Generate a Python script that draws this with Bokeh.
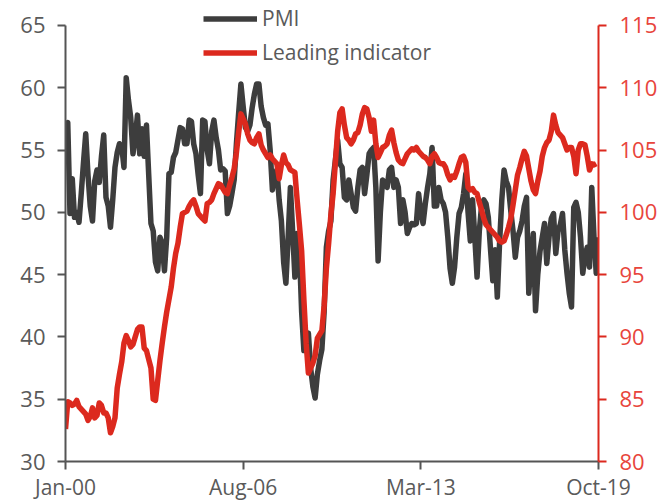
import numpy as np
from bokeh.plotting import figure
from bokeh.models import Range1d, LinearAxis, FixedTicker, Legend, LegendItem, ColumnDataSource
from bokeh.embed import file_html
from bokeh.resources import INLINE

# Monthly data, Jan-2000 .. Oct-2019
tick_labels = ["Jan-00", "Aug-06", "Mar-13", "Oct-19"]
tick_months = [0, 79, 158, 237]
left_ticks = [30, 35, 40, 45, 50, 55, 60, 65]
right_ticks = [80, 85, 90, 95, 100, 105, 110, 115]

pmi = [
    57.0, 57.2, 49.9, 52.7, 49.6, 50.0, 49.2, 51.5, 54.0, 56.3,
    53.0, 50.5, 49.3, 52.5, 53.4, 52.4, 54.5, 56.2, 51.2, 50.5,
    48.8, 51.0, 53.6, 54.8, 55.5, 55.3, 53.6, 60.8, 59.0, 57.6,
    54.7, 56.0, 57.8, 54.7, 56.7, 54.5, 57.0, 53.0, 49.1, 48.5,
    46.0, 45.3, 48.0, 47.5, 45.3, 48.0, 53.1, 53.2, 54.4, 54.8,
    55.8, 56.8, 56.7, 55.5, 55.5, 57.4, 57.3, 55.5, 54.7, 53.0,
    51.5, 57.4, 57.3, 55.0, 53.9, 56.5, 57.4, 56.0, 55.0, 53.4,
    53.5, 53.3, 49.9, 50.5, 51.5, 52.6, 55.5, 58.0, 60.3, 58.5,
    56.8, 56.5, 57.0, 58.4, 59.5, 60.3, 60.3, 58.5, 57.6, 57.0,
    57.1, 55.0, 51.8, 53.0, 53.4, 51.0, 49.3, 46.0, 44.3, 48.0,
    52.0, 48.5, 44.8, 48.3, 47.0, 42.0, 38.9, 39.5, 40.3, 37.5,
    36.0, 35.1, 37.0, 38.1, 39.0, 42.0, 47.2, 48.5, 49.3, 52.6,
    54.2, 55.8, 53.9, 53.6, 51.2, 51.0, 52.6, 51.5, 50.4, 50.1,
    52.0, 53.4, 53.6, 51.5, 53.0, 54.7, 55.0, 55.2, 52.0, 46.1,
    50.0, 52.6, 52.3, 52.0, 53.4, 53.6, 52.0, 52.6, 52.0, 49.1,
    51.0, 50.0, 48.3, 48.8, 49.1, 49.0, 49.1, 51.5, 50.0, 49.1,
    50.7, 52.0, 53.1, 55.2, 50.5, 50.5, 52.0, 51.0, 50.7, 50.0,
    48.0, 45.5, 44.3, 45.6, 48.0, 49.9, 50.4, 51.5, 53.1, 50.0,
    47.7, 51.0, 48.0, 44.8, 48.5, 50.5, 51.0, 50.7, 49.6, 47.0,
    44.5, 47.0, 43.2, 47.5, 51.0, 53.4, 52.5, 52.0, 50.1, 48.5,
    46.4, 48.0, 48.5, 49.3, 50.5, 51.2, 43.5, 46.0, 48.3, 42.1,
    45.0, 46.9, 48.0, 49.1, 45.9, 48.0, 49.5, 49.9, 46.7, 48.5,
    49.0, 49.9, 47.0, 45.1, 43.5, 42.4, 50.4, 50.8, 50.0, 48.0,
    45.1, 46.5, 47.2, 45.6, 52.0, 48.0, 45.1, 48.0,
]

leading = [
    82.6, 84.8, 84.7, 84.5, 84.6, 84.9, 84.4, 84.2, 84.0, 83.8,
    83.3, 83.6, 84.3, 83.5, 83.7, 84.7, 84.5, 83.9, 83.9, 83.5,
    82.3, 82.8, 83.5, 85.9, 87.0, 88.0, 89.5, 90.1, 89.7, 89.2,
    89.4, 90.0, 90.6, 90.8, 90.8, 89.1, 88.9, 88.2, 87.5, 85.0,
    84.9, 86.5, 88.1, 89.5, 90.8, 92.0, 93.0, 94.0, 95.5, 96.7,
    97.5, 98.8, 99.9, 100.0, 100.1, 100.5, 100.8, 101.0, 100.5, 99.9,
    99.7, 99.5, 99.3, 100.7, 100.8, 101.0, 101.5, 101.9, 102.3, 102.2,
    101.9, 101.6, 101.5, 102.2, 102.8, 103.5, 104.8, 106.4, 107.9, 107.5,
    107.1, 106.3, 105.8, 105.6, 105.5, 106.0, 106.3, 105.4, 105.0, 104.7,
    104.4, 104.6, 104.3, 104.1, 103.9, 102.7, 103.8, 104.6, 104.0, 103.8,
    103.4, 103.3, 103.2, 101.0, 99.0, 96.9, 93.0, 89.5, 87.1, 87.5,
    87.9, 88.5, 89.9, 90.2, 90.5, 92.5, 95.5, 97.5, 99.8, 101.5,
    104.0, 106.5, 108.0, 108.3, 107.0, 106.0, 105.8, 105.5, 105.8, 106.3,
    106.4, 107.0, 107.9, 108.4, 108.3, 107.6, 106.5, 107.4, 105.5, 104.4,
    104.8, 105.2, 105.3, 105.5, 106.2, 106.6, 105.6, 104.8, 104.2, 104.0,
    103.9, 104.3, 104.7, 104.9, 105.1, 105.0, 105.2, 104.9, 104.7, 104.5,
    104.4, 104.2, 103.9, 104.5, 104.7, 104.4, 104.0, 103.9, 103.9, 103.6,
    103.0, 102.6, 102.9, 102.8, 103.3, 103.9, 104.4, 104.5, 104.0, 102.0,
    101.8, 101.9, 101.6, 101.5, 100.8, 100.2, 99.5, 99.0, 98.8, 98.6,
    98.4, 98.2, 98.0, 97.7, 97.6, 97.7, 98.2, 98.8, 99.5, 100.6,
    101.8, 103.0, 103.6, 104.3, 104.9, 104.5, 103.5, 102.5, 101.8, 101.5,
    102.5, 103.3, 104.5, 105.2, 105.6, 105.8, 106.5, 107.8, 107.0, 106.4,
    106.2, 106.0, 105.5, 105.0, 105.2, 105.2, 104.5, 103.1, 105.0, 105.5,
    105.5, 105.4, 104.5, 103.4, 103.9, 103.8, 103.9, float("nan"),
]

months = list(range(len(pmi)))

GRAY = "#3d3d3d"
TXT = "#5a5a5a"
RED = "#dc291e"
RED_TXT = "#e8453c"
FONT = "Open Sans"

# frame spans from the very top so the legend (partly above the 65 tick) is not clipped
p = figure(frame_width=533, frame_height=461, output_backend="svg", toolbar_location=None,
           x_range=Range1d(0, 237), y_range=Range1d(30, 67.0),
           min_border_left=65, min_border_right=53, min_border_top=0, min_border_bottom=32)
p.extra_y_ranges = {"right": Range1d(80, 117.0)}
p.outline_line_color = None
p.xgrid.visible = False
p.ygrid.visible = False
p.background_fill_color = "white"
p.border_fill_color = "white"

src = ColumnDataSource(dict(x=months, pmi=pmi, lead=leading))
r1 = p.line("x", "pmi", source=src, line_color=GRAY, line_width=5.5, line_join="round")
r2 = p.line("x", "lead", source=src, line_color=RED, line_width=5.5, line_join="round",
            y_range_name="right")

# axes
p.xaxis.ticker = FixedTicker(ticks=tick_months)
p.xaxis.major_label_overrides = {m: l for m, l in zip(tick_months, tick_labels)}
for ax in (p.xaxis[0], p.yaxis[0]):
    ax.axis_line_color = "#555555"
    ax.axis_line_width = 2
    ax.major_tick_line_color = "#555555"
    ax.major_tick_line_width = 2
    ax.major_tick_out = 8
    ax.major_tick_in = 0
    ax.minor_tick_line_color = None
    ax.major_label_text_font = FONT
    ax.major_label_text_font_size = "22px"
    ax.major_label_text_color = TXT
p.xaxis.major_label_text_font_size = "21px"
p.yaxis.ticker = FixedTicker(ticks=left_ticks)
p.yaxis.bounds = (30, 65)
p.yaxis.major_label_standoff = 12
p.xaxis.major_label_standoff = 3

rax = LinearAxis(y_range_name="right", ticker=FixedTicker(ticks=right_ticks), bounds=(80, 115))
rax.axis_line_color = RED
rax.axis_line_width = 2
rax.major_tick_line_color = RED
rax.major_tick_line_width = 2
rax.major_tick_out = 8
rax.major_tick_in = 0
rax.minor_tick_line_color = None
rax.major_label_text_font = FONT
rax.major_label_text_font_size = "22px"
rax.major_label_text_color = RED_TXT
rax.major_label_standoff = 13
p.add_layout(rax, "right")

legend = Legend(items=[LegendItem(label="PMI", renderers=[r1]),
                       LegendItem(label="Leading indicator", renderers=[r2])],
                location=(138, 395), orientation="vertical")
legend.background_fill_alpha = 0
legend.border_line_color = None
legend.padding = 0
legend.margin = 0
legend.spacing = 6
legend.glyph_width = 54
legend.glyph_height = 25
legend.label_height = 25
legend.label_standoff = 5
legend.label_text_font = FONT
legend.label_text_font_size = "21px"
legend.label_text_color = TXT
p.add_layout(legend, "center")

open("out.html", "w").write(file_html(p, INLINE))
